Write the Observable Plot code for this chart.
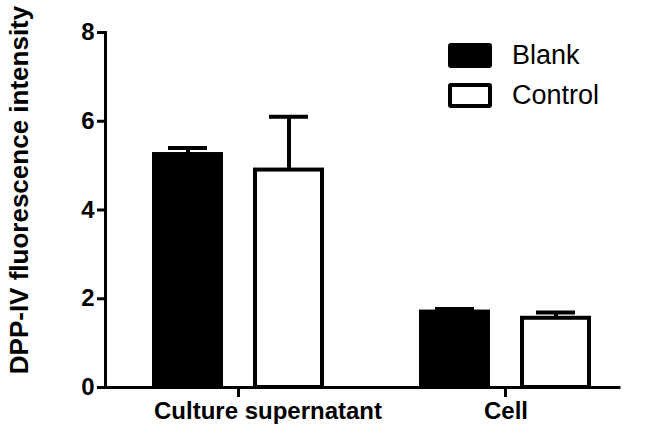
<!DOCTYPE html>
<html><head><meta charset="utf-8">
<script src="https://cdn.jsdelivr.net/npm/d3@7"></script>
<script src="https://cdn.jsdelivr.net/npm/@observablehq/plot@0.6"></script>
<style>
html,body{margin:0;padding:0;background:#fff;}
#wrap{position:relative;width:647px;height:433px;}
#legend{position:absolute;left:448px;top:43px;font-family:"Liberation Sans",Arial,sans-serif;font-size:27px;color:#000;}
.item{display:flex;align-items:center;height:25px;margin-bottom:15px;white-space:nowrap;}
.sw{box-sizing:border-box;width:44px;height:25px;border:4px solid #000;border-radius:3px;margin-right:20px;}
</style></head><body><div id="wrap"><div id="legend"></div></div>
<script>
const groups = ["Culture supernatant", "Cell"];
const series = ["Blank", "Control"];
const colors = ["#000000", "#ffffff"];
const blankMean = [5.25, 1.70];
const blankSD = [0.15, 0.07];
const controlMean = [4.90, 1.56];
const controlSD = [1.20, 0.13];
const yTicks = [0, 2, 4, 6, 8];
const yLabel = "DPP-IV fluorescence intensity";

const data = groups.flatMap((g, i) => [
  {group: g, series: series[0], mean: blankMean[i], sd: blankSD[i]},
  {group: g, series: series[1], mean: controlMean[i], sd: controlSD[i]}
]);

const chart = Plot.plot({
  width: 647, height: 433,
  marginLeft: 104, marginRight: 27, marginTop: 32, marginBottom: 46,
  style: {fontFamily: "'Liberation Sans', Arial, sans-serif", fontSize: "24px", fontWeight: "bold", color: "#000", background: "#fff"},
  fx: {domain: groups, range: [104.5, 638.5], paddingInner: 0, paddingOuter: 0, axis: null, label: null},
  x: {domain: series, paddingInner: 0.297, paddingOuter: 0.47, axis: null},
  y: {domain: [0, 8], axis: null},
  color: {domain: series, range: colors},
  marks: [
    Plot.barY(data, {fx: "group", x: "series", y: "mean", fill: "series", stroke: "#000", strokeWidth: 4, insetLeft: 2, insetRight: 2}),
    Plot.ruleX(data, {fx: "group", x: "series", y1: "mean", y2: d => d.mean + d.sd, stroke: "#000", strokeWidth: 4}),
    Plot.tickY(data, {fx: "group", x: "series", y: d => d.mean + d.sd, stroke: "#000", strokeWidth: 4, insetLeft: 16, insetRight: 16}),
    Plot.frame({anchor: "left", facet: "super", strokeWidth: 3}),
    Plot.ruleY([groups[0]], {fx: d => d, y: 0, strokeWidth: 3}),
    Plot.ruleY([groups[1]], {fx: d => d, y: 0, strokeWidth: 3, insetRight: 18.5}),
    Plot.ruleX(groups, {fx: d => d, x: () => series[0], dx: 50.5, y1: 0, y2: -0.225, strokeWidth: 3}),
    Plot.axisY({ticks: yTicks, tickSize: 8, tickPadding: 3, strokeWidth: 3, label: null}),
    Plot.axisFx({anchor: "bottom", ticks: [groups[0]], tickSize: 0, tickPadding: 14, dx: 29, label: null}),
    Plot.axisFx({anchor: "bottom", ticks: [groups[1]], tickSize: 0, tickPadding: 14, label: null}),
    Plot.text([yLabel], {frameAnchor: "left", textAnchor: "middle", rotate: -90, dx: -86, dy: -20, facet: "super", fontSize: 26, fontWeight: "bold"})
  ]
});
document.getElementById("wrap").prepend(chart);

const legend = document.getElementById("legend");
series.forEach((s, i) => {
  const item = document.createElement("div");
  item.className = "item";
  const sw = document.createElement("div");
  sw.className = "sw";
  sw.style.background = colors[i];
  const t = document.createElement("span");
  t.textContent = s;
  item.append(sw, t);
  legend.append(item);
});
</script></body></html>
